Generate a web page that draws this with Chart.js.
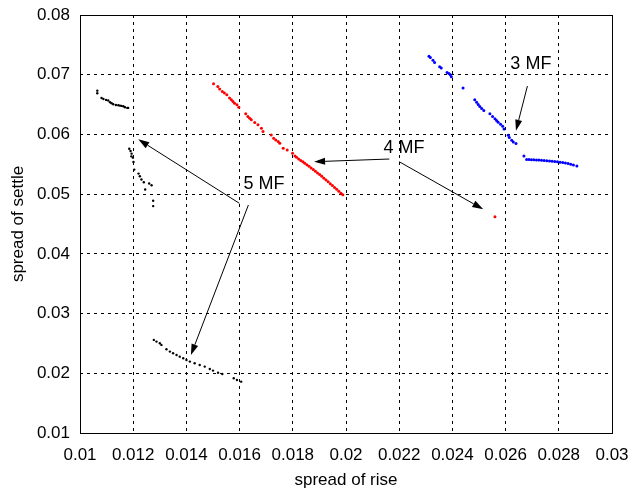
<!DOCTYPE html>
<html>
<head>
<meta charset="utf-8">
<script src="https://cdn.jsdelivr.net/npm/chart.js@4"></script>
<style>
  html, body { margin: 0; padding: 0; background: #fff; }
  #wrap { width: 633px; height: 495px; }
</style>
</head>
<body>
<div id="wrap"><canvas id="spread"></canvas></div>
<script>
// values
const blackX = [0.01065, 0.01065, 0.01081, 0.01088, 0.01098, 0.01106, 0.01113, 0.01119, 0.01125, 0.01135, 0.01144, 0.0115, 0.01156, 0.01163, 0.01169, 0.01178, 0.01181,
  0.01185, 0.0119, 0.01194, 0.01193, 0.01199, 0.01201, 0.01204, 0.0122, 0.01225, 0.01231, 0.0124, 0.01245, 0.0126, 0.01269, 0.01275, 0.01275,
  0.012775, 0.012875, 0.013, 0.01306, 0.01325, 0.01338, 0.0135, 0.01363, 0.01375, 0.01388, 0.014, 0.01413, 0.01431, 0.0145, 0.01469, 0.01488, 0.015, 0.01519, 0.01535, 0.01578, 0.0159, 0.01606];
const blackY = [0.06733, 0.06689, 0.06611, 0.06594, 0.06578, 0.06567, 0.06539, 0.06522, 0.06506, 0.06494, 0.06489, 0.06483, 0.06478, 0.06472, 0.06456, 0.06444, 0.06444,
  0.05761, 0.05722, 0.05678, 0.05633, 0.05611, 0.05539, 0.05411, 0.05344, 0.053, 0.05244, 0.052, 0.05078, 0.05178, 0.0515, 0.04889, 0.048,
  0.02559, 0.02531, 0.02503, 0.02475, 0.02402, 0.02363, 0.02335, 0.02307, 0.02279, 0.02251, 0.02223, 0.02196, 0.02168, 0.0214, 0.02112, 0.02073, 0.02045, 0.02011, 0.01989, 0.01916, 0.01888, 0.0186];

const redX = [0.01502, 0.01518, 0.01525, 0.01535, 0.01543, 0.01552, 0.01562, 0.01569, 0.01575, 0.01581, 0.0159, 0.01597, 0.01623, 0.01631, 0.01638, 0.01644, 0.01657, 0.01669, 0.01682, 0.01688,
  0.01719, 0.01728, 0.01736, 0.01745, 0.01751, 0.01764, 0.01779, 0.01799, 0.01808,
  0.01814, 0.01822, 0.0183, 0.01838, 0.01845, 0.01853, 0.01861, 0.01869, 0.01877, 0.01885, 0.01893, 0.01901, 0.01909, 0.01917, 0.01925, 0.01933, 0.01941, 0.01949, 0.01957, 0.01965, 0.01973, 0.01981, 0.01988,
  0.0256];
const redY = [0.06849, 0.06804, 0.06759, 0.0672, 0.06692, 0.06664, 0.06608, 0.0658, 0.06552, 0.06524, 0.06496, 0.06457, 0.06345, 0.063, 0.06272, 0.06244, 0.06199, 0.0616, 0.06104, 0.06048,
  0.05992, 0.05936, 0.05908, 0.0588, 0.05852, 0.05768, 0.0574, 0.05683, 0.05639,
  0.05616, 0.0559, 0.05565, 0.05541, 0.05518, 0.05492, 0.05466, 0.05438, 0.05411, 0.05383, 0.05356, 0.05327, 0.05298, 0.05268, 0.05238, 0.05207, 0.05175, 0.05144, 0.05112, 0.0508, 0.05048, 0.05016, 0.04988,
  0.04622];

const blueX = [0.02312, 0.02317, 0.02327, 0.02333, 0.02352, 0.02358, 0.0238, 0.02387, 0.02392, 0.02396, 0.0244, 0.02484, 0.02491, 0.02497, 0.02503, 0.0251, 0.02518, 0.02541, 0.02551, 0.0256, 0.02566, 0.02572, 0.02581, 0.02589, 0.02594,
  0.0261, 0.02614, 0.02623, 0.02629, 0.02639, 0.02669,
  0.02679, 0.02688, 0.02697, 0.02706, 0.02716, 0.02725, 0.02735, 0.02745, 0.02755, 0.02765, 0.02775, 0.02785, 0.02795, 0.02805, 0.02815, 0.02825, 0.02835, 0.02845, 0.02855, 0.02868];
const blueY = [0.0731, 0.07288, 0.07244, 0.07205, 0.07133, 0.07111, 0.07039, 0.07022, 0.07, 0.06967, 0.06778, 0.06579, 0.0654, 0.06501, 0.06468, 0.06435, 0.06402, 0.06346, 0.06302, 0.06263, 0.06235, 0.06202, 0.06169, 0.06136, 0.06091,
  0.05986, 0.05947, 0.05903, 0.05875, 0.05848, 0.05637,
  0.05582, 0.0558, 0.05578, 0.05576, 0.05573, 0.0557, 0.05567, 0.05564, 0.0556, 0.05556, 0.05551, 0.05546, 0.05541, 0.05535, 0.05528, 0.05521, 0.05512, 0.05502, 0.0549, 0.05471];

const xTicks = [0.01, 0.012, 0.014, 0.016, 0.018, 0.02, 0.022, 0.024, 0.026, 0.028, 0.03];
const yTicks = [0.01, 0.02, 0.03, 0.04, 0.05, 0.06, 0.07, 0.08];

// annotation labels and arrows, in data units
const labels = [
  { text: '3 MF', x: 0.02695, y: 0.07179 },
  { text: '4 MF', x: 0.02218, y: 0.05764 },
  { text: '5 MF', x: 0.01692, y: 0.0517 }
];
const arrows = [
  [0.02682, 0.06811, 0.02639, 0.06062],
  [0.02163, 0.05588, 0.0188, 0.05543],
  [0.0220, 0.05543, 0.02516, 0.04746],
  [0.01599, 0.04847, 0.01219, 0.05918],
  [0.01633, 0.04818, 0.01417, 0.02306]
];

function pts(xs, ys) {
  return xs.map((x, i) => ({ x: x, y: ys[i] }));
}

const FONT = "'Liberation Sans', Arial, sans-serif";

const notes = {
  id: 'notes',
  afterDatasetsDraw(chart) {
    const ctx = chart.ctx;
    const xs = chart.scales.x, ys = chart.scales.y;
    ctx.save();
    ctx.strokeStyle = '#000';
    ctx.fillStyle = '#000';
    ctx.lineWidth = 1;
    arrows.forEach(a => {
      const x1 = xs.getPixelForValue(a[0]), y1 = ys.getPixelForValue(a[1]);
      const x2 = xs.getPixelForValue(a[2]), y2 = ys.getPixelForValue(a[3]);
      const ang = Math.atan2(y2 - y1, x2 - x1);
      const len = 11, half = 3.5;
      const bx = x2 - len * Math.cos(ang), by = y2 - len * Math.sin(ang);
      ctx.beginPath();
      ctx.moveTo(x1, y1);
      ctx.lineTo(bx, by);
      ctx.stroke();
      ctx.beginPath();
      ctx.moveTo(x2, y2);
      ctx.lineTo(bx + half * Math.sin(ang), by - half * Math.cos(ang));
      ctx.lineTo(bx - half * Math.sin(ang), by + half * Math.cos(ang));
      ctx.closePath();
      ctx.fill();
    });
    ctx.font = '18px ' + FONT;
    ctx.textAlign = 'center';
    ctx.textBaseline = 'middle';
    labels.forEach(l => {
      ctx.fillText(l.text, xs.getPixelForValue(l.x), ys.getPixelForValue(l.y));
    });
    // box around plot area
    const a = chart.chartArea;
    ctx.strokeStyle = '#000';
    ctx.lineWidth = 1;
    ctx.strokeRect(Math.round(a.left) + 0.5, Math.round(a.top) + 0.5, Math.round(a.right - a.left), Math.round(a.bottom - a.top));
    ctx.restore();
  }
};

new Chart(document.getElementById('spread'), {
  type: 'scatter',
  data: {
    datasets: [
      { label: '5 MF', data: pts(blackX, blackY), backgroundColor: '#000', pointRadius: 1.2, pointBorderWidth: 0 },
      { label: '4 MF', data: pts(redX, redY), backgroundColor: '#ff0000', pointRadius: 1.5, pointBorderWidth: 0 },
      { label: '3 MF', data: pts(blueX, blueY), backgroundColor: '#0000ff', pointRadius: 1.5, pointBorderWidth: 0 }
    ]
  },
  options: {
    responsive: true,
    maintainAspectRatio: false,
    animation: false,
    layout: { padding: { left: 0, right: 21, top: 15, bottom: 0 } },
    plugins: { legend: { display: false }, tooltip: { enabled: false } },
    scales: {
      x: {
        type: 'linear', min: 0.01, max: 0.03,
        afterBuildTicks: s => { s.ticks = xTicks.map(v => ({ value: v })); },
        afterFit: s => { s.height = 62; s.paddingLeft = 0; s.paddingRight = 0; },
        ticks: { color: '#000', font: { family: FONT, size: 17 }, padding: 12, maxRotation: 0, autoSkip: false,
          callback: v => String(parseFloat(v.toFixed(3))) },
        grid: { color: '#000', lineWidth: 1, drawTicks: false },
        border: { display: false, dash: [3, 4] },
        title: { display: true, text: 'spread of rise', color: '#000', font: { family: FONT, size: 17 }, padding: { top: 2, bottom: 4 } }
      },
      y: {
        type: 'linear', min: 0.01, max: 0.08,
        afterBuildTicks: s => { s.ticks = yTicks.map(v => ({ value: v })); },
        afterFit: s => { s.width = 80; s.paddingTop = 0; s.paddingBottom = 0; },
        ticks: { color: '#000', font: { family: FONT, size: 17 }, padding: 10, autoSkip: false,
          callback: v => String(parseFloat(v.toFixed(2))) },
        grid: { color: '#000', lineWidth: 1, drawTicks: false },
        border: { display: false, dash: [3, 4] },
        title: { display: true, text: 'spread of settle', color: '#000', font: { family: FONT, size: 17 }, padding: { top: 8, bottom: 8 } }
      }
    }
  },
  plugins: [notes]
});
</script>
</body>
</html>
